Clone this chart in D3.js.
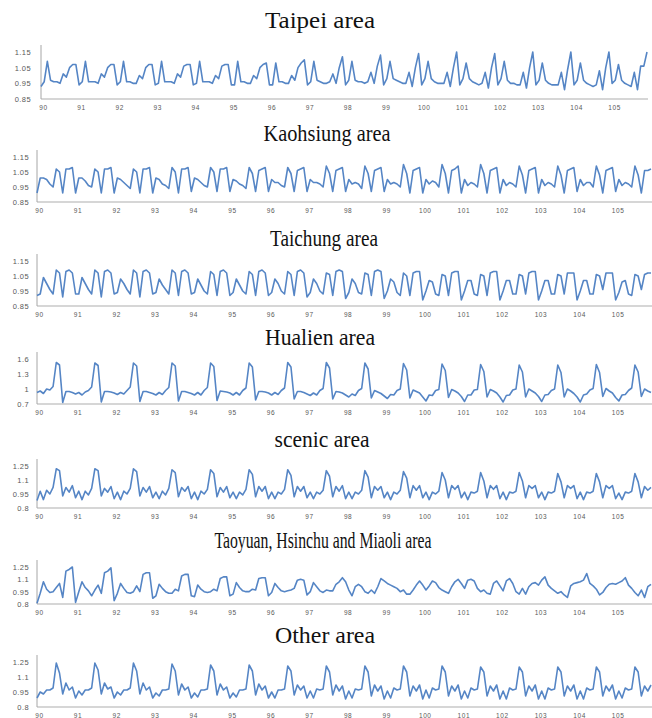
<!DOCTYPE html>
<html>
<head>
<meta charset="utf-8">
<title>seasonal index by area</title>
<style>
	body {
		margin: 0;
		padding: 0;
		background: #fff;
	}
	svg { display: block; }
	.title {
		font-family: "Liberation Serif", "Times New Roman", serif;
		font-size: 24px;
		fill: #111;
		text-anchor: middle;
	}
	.yaxis .tick text {
		font-family: "Liberation Sans", Arial, sans-serif;
		font-size: 7.5px;
		fill: #595959;
		letter-spacing: 0.4px;
	}
	.xaxis .tick text {
		font-family: "Liberation Sans", Arial, sans-serif;
		font-size: 6.5px;
		fill: #595959;
		letter-spacing: 0.6px;
	}
	.yline { stroke: #a6a6a6; stroke-width: 1; }
	.xline { stroke: #c8c8c8; stroke-width: 1.5; }
	.series {
		fill: none;
		stroke: #5585c5;
		stroke-width: 1.6;
		stroke-linejoin: round;
	}
</style>
</head>
<body>

<svg width="652" height="718"></svg>

<script src="https://d3js.org/d3.v7.min.js"></script>
<script>

	// year labels (ROC years), one row of 12 monthly values per year below
	var years = ["90","91","92","93","94","95","96","97","98","99","100","101","102","103","104","105"];

	var taipei = [
		[0.93,0.96,1.09,0.97,0.96,0.96,0.95,1.01,0.99,1.05,1.07,1.07],
		[0.94,0.96,1.09,0.96,0.96,0.96,0.95,1.01,0.99,1.05,1.07,1.07],
		[0.94,0.96,1.09,0.96,0.96,0.95,0.95,1.00,0.98,1.05,1.07,1.07],
		[0.94,0.95,1.09,0.96,0.96,0.96,0.95,1.01,0.99,1.06,1.07,1.07],
		[0.94,0.95,1.09,0.96,0.96,0.96,0.95,1.00,0.98,1.06,1.07,1.07],
		[0.94,0.94,1.09,0.96,0.96,0.95,0.95,1.00,0.98,1.05,1.07,1.08],
		[0.94,0.94,1.08,0.96,0.96,0.95,0.95,1.00,0.97,1.05,1.08,1.10],
		[0.94,0.96,1.09,0.97,0.96,0.95,0.95,0.96,1.01,0.95,1.05,1.12],
		[0.94,0.97,1.09,0.97,0.96,0.96,0.95,0.96,1.02,0.95,1.06,1.13],
		[0.94,0.98,1.09,0.98,0.97,0.96,0.95,0.95,1.02,0.93,1.05,1.14],
		[0.94,0.98,1.09,0.98,0.96,0.95,0.95,0.95,1.02,0.93,1.05,1.15],
		[0.94,0.98,1.08,0.98,0.96,0.95,0.94,0.95,1.02,0.92,1.05,1.14],
		[0.94,0.98,1.09,0.97,0.95,0.95,0.94,0.94,1.02,0.92,1.05,1.15],
		[0.94,0.97,1.08,0.97,0.95,0.94,0.94,0.94,1.02,0.91,1.04,1.15],
		[0.94,0.97,1.08,0.97,0.95,0.94,0.93,0.94,1.03,0.91,1.05,1.15],
		[0.95,0.97,1.07,0.97,0.95,0.94,0.93,1.02,0.91,1.06,1.06,1.15]
	];

	var kaohsiung = [
		[0.91,1.01,1.01,1.00,0.97,0.95,1.07,1.05,0.91,1.07,1.07,1.08],
		[0.91,1.01,1.01,0.99,0.96,0.95,1.07,1.05,0.91,1.07,1.07,1.08],
		[0.91,1.01,1.00,0.98,0.96,0.94,1.07,1.05,0.91,1.07,1.07,1.08],
		[0.91,1.01,1.00,0.97,0.96,0.94,1.08,1.05,0.91,1.07,1.07,1.08],
		[0.92,1.01,1.00,0.98,0.96,0.95,1.08,1.05,0.92,1.07,1.07,1.08],
		[0.92,1.00,0.99,0.97,0.96,0.94,1.08,1.04,0.92,1.06,1.07,1.08],
		[0.92,1.00,0.98,0.98,0.96,0.95,1.08,1.04,0.92,1.06,1.07,1.08],
		[0.92,1.00,0.98,0.98,0.97,0.95,1.09,1.04,0.92,1.06,1.07,1.08],
		[0.92,1.00,0.97,0.98,0.97,0.94,1.09,1.04,0.92,1.06,1.07,1.08],
		[0.92,1.00,0.97,0.98,0.97,0.95,1.10,1.04,0.91,1.06,1.07,1.08],
		[0.91,1.00,0.97,0.99,0.98,0.95,1.10,1.04,0.91,1.06,1.07,1.09],
		[0.91,1.00,0.96,0.98,0.97,0.95,1.10,1.04,0.91,1.06,1.07,1.08],
		[0.91,1.00,0.96,0.98,0.97,0.95,1.09,1.03,0.91,1.06,1.07,1.08],
		[0.91,1.00,0.96,0.98,0.97,0.95,1.09,1.03,0.91,1.06,1.07,1.08],
		[0.92,1.00,0.96,0.98,0.98,0.95,1.09,1.03,0.91,1.06,1.07,1.08],
		[0.92,1.00,0.96,0.98,0.97,0.95,1.09,1.03,0.91,1.06,1.06,1.07]
	];

	var taichung = [
		[0.92,0.93,1.04,1.00,0.96,0.93,1.09,1.07,0.91,1.08,1.09,1.07],
		[0.93,0.93,1.04,1.00,0.96,0.93,1.09,1.07,0.91,1.08,1.09,1.07],
		[0.93,0.94,1.03,1.00,0.96,0.93,1.09,1.07,0.91,1.08,1.09,1.07],
		[0.93,0.94,1.03,0.99,0.96,0.93,1.09,1.07,0.92,1.08,1.09,1.07],
		[0.93,0.94,1.03,0.99,0.95,0.93,1.08,1.06,0.92,1.08,1.09,1.07],
		[0.92,0.94,1.03,0.99,0.95,0.93,1.08,1.06,0.92,1.08,1.09,1.07],
		[0.92,0.94,1.03,1.00,0.95,0.93,1.08,1.06,0.92,1.08,1.09,1.07],
		[0.91,0.94,1.03,1.00,0.95,0.93,1.07,1.06,0.92,1.08,1.09,1.08],
		[0.90,0.94,1.03,1.00,0.94,0.93,1.07,1.06,0.92,1.08,1.09,1.08],
		[0.90,0.95,1.03,1.01,0.94,0.92,1.07,1.05,0.92,1.07,1.08,1.08],
		[0.89,0.95,1.02,1.01,0.93,0.92,1.06,1.05,0.92,1.07,1.08,1.08],
		[0.89,0.95,1.02,1.02,0.93,0.92,1.06,1.05,0.92,1.07,1.08,1.08],
		[0.89,0.95,1.02,1.02,0.93,0.93,1.06,1.05,0.93,1.07,1.08,1.08],
		[0.89,0.95,1.02,1.02,0.93,0.93,1.06,1.05,0.93,1.07,1.07,1.07],
		[0.89,0.95,1.02,1.02,0.93,0.93,1.06,1.05,0.96,1.07,1.07,1.07],
		[0.89,0.94,1.01,1.02,0.93,0.92,1.06,1.05,0.96,1.06,1.07,1.07]
	];

	var hualien = [
		[0.93,0.96,0.91,1.00,0.98,1.05,1.53,1.48,0.73,0.95,0.95,0.93],
		[0.90,0.93,0.88,0.94,0.97,1.04,1.52,1.47,0.74,0.95,0.95,0.94],
		[0.92,0.89,0.93,0.90,0.97,1.04,1.52,1.46,0.75,0.95,0.95,0.93],
		[0.91,0.88,0.93,0.89,0.97,1.03,1.52,1.46,0.76,0.95,0.95,0.93],
		[0.91,0.88,0.93,0.88,0.97,1.03,1.52,1.45,0.77,0.96,0.95,0.94],
		[0.92,0.88,0.93,0.88,0.97,1.02,1.52,1.44,0.78,0.95,0.95,0.94],
		[0.92,0.88,0.93,0.89,0.97,1.02,1.53,1.44,0.80,0.95,0.95,0.93],
		[0.90,0.87,0.92,0.88,0.97,1.01,1.53,1.42,0.80,0.95,0.94,0.92],
		[0.88,0.84,0.90,0.87,0.97,1.01,1.52,1.40,0.82,0.97,0.94,0.91],
		[0.86,0.81,0.89,0.88,0.97,1.00,1.51,1.38,0.82,0.98,0.95,0.92],
		[0.84,0.76,0.88,0.87,0.97,0.99,1.50,1.37,0.83,0.99,0.96,0.92],
		[0.85,0.75,0.88,0.88,0.98,0.99,1.49,1.35,0.84,0.99,0.96,0.92],
		[0.84,0.74,0.87,0.88,0.98,1.00,1.48,1.34,0.84,1.00,0.96,0.92],
		[0.85,0.75,0.88,0.89,0.97,1.00,1.48,1.33,0.84,1.00,0.96,0.91],
		[0.84,0.74,0.88,0.90,0.98,1.01,1.49,1.33,0.85,1.01,0.96,0.92],
		[0.83,0.76,0.88,0.89,0.97,1.02,1.48,1.34,0.85,1.00,0.96,0.93]
	];

	var scenic = [
		[0.88,0.98,0.89,0.99,0.95,1.02,1.22,1.20,0.93,1.02,0.97,1.04],
		[0.91,0.98,0.89,0.98,0.94,1.01,1.22,1.20,0.93,1.01,0.97,1.03],
		[0.90,0.97,0.89,0.98,0.95,1.01,1.22,1.19,0.93,1.02,0.97,1.03],
		[0.91,0.97,0.90,0.98,0.94,1.01,1.21,1.18,0.92,1.02,0.98,1.03],
		[0.90,0.97,0.89,0.98,0.95,1.00,1.21,1.17,0.92,1.02,0.97,1.03],
		[0.91,0.97,0.90,0.97,0.94,1.00,1.21,1.16,0.92,1.03,0.98,1.03],
		[0.90,0.97,0.90,0.97,0.95,1.00,1.21,1.15,0.92,1.03,0.98,1.03],
		[0.91,0.97,0.90,0.97,0.95,0.99,1.20,1.14,0.92,1.03,0.98,1.04],
		[0.90,0.97,0.90,0.97,0.95,0.99,1.20,1.13,0.91,1.03,0.99,1.03],
		[0.91,0.97,0.89,0.97,0.95,0.99,1.19,1.12,0.91,1.04,0.99,1.04],
		[0.91,0.97,0.89,0.97,0.95,0.98,1.18,1.10,0.91,1.04,1.00,1.04],
		[0.91,0.97,0.89,0.97,0.96,0.98,1.18,1.09,0.91,1.04,1.00,1.04],
		[0.90,0.97,0.89,0.97,0.96,0.98,1.18,1.09,0.91,1.04,1.01,1.04],
		[0.91,0.97,0.89,0.97,0.96,0.98,1.17,1.08,0.91,1.04,1.01,1.04],
		[0.90,0.97,0.89,0.97,0.96,0.98,1.17,1.08,0.91,1.04,1.01,1.04],
		[0.90,0.96,0.89,0.97,0.96,0.98,1.17,1.08,0.91,1.03,0.99,1.02]
	];

	var taoyuan = [
		[0.81,0.93,1.07,0.98,0.94,0.95,1.00,1.05,0.88,1.20,1.22,1.25],
		[0.82,0.95,1.07,1.00,0.96,0.90,0.97,1.03,0.93,1.18,1.20,1.24],
		[0.84,0.93,1.05,0.99,0.94,0.93,0.95,1.02,0.95,1.16,1.18,1.18],
		[0.87,0.90,1.04,0.99,0.95,0.93,0.93,0.98,0.96,1.14,1.16,1.16],
		[0.90,0.89,1.03,0.98,0.95,0.94,0.95,0.98,0.96,1.11,1.13,1.13],
		[0.90,0.92,1.06,1.00,0.96,0.95,0.95,0.98,0.97,1.11,1.12,1.12],
		[0.90,0.94,1.05,1.00,0.96,0.95,0.96,0.97,0.99,1.09,1.10,1.09],
		[0.91,0.95,1.06,1.01,0.96,0.94,0.97,0.96,0.96,1.04,1.07,1.12],
		[1.07,0.97,0.90,1.01,1.04,1.01,0.95,0.93,0.97,0.93,1.01,1.11],
		[1.08,1.05,1.03,1.01,0.99,0.95,0.97,0.92,0.92,0.97,1.03,1.08],
		[1.03,0.97,1.02,1.08,1.06,1.00,0.97,0.95,0.93,1.01,1.07,1.10],
		[1.05,0.99,1.09,1.10,1.08,0.99,0.95,0.97,0.93,0.92,1.05,1.08],
		[1.02,0.96,1.08,1.11,1.05,0.95,0.92,0.99,0.92,1.01,1.05,1.06],
		[1.03,1.09,1.13,1.03,0.99,0.96,0.93,0.95,0.91,0.88,1.02,1.05],
		[1.06,1.07,1.09,1.17,1.05,1.02,0.98,0.91,0.94,1.00,1.04,1.05],
		[1.04,1.06,1.08,1.12,1.03,0.99,0.94,0.90,0.97,0.88,1.01,1.04]
	];

	var other = [
		[0.89,0.95,0.93,0.97,0.97,0.99,1.24,1.14,0.93,1.04,0.97,1.00],
		[0.89,0.96,0.92,0.97,0.97,0.99,1.24,1.17,0.93,1.04,0.98,1.00],
		[0.89,0.95,0.92,0.97,0.97,0.99,1.24,1.16,0.93,1.04,0.97,1.00],
		[0.89,0.94,0.91,0.97,0.97,0.98,1.23,1.16,0.92,1.03,0.97,1.00],
		[0.89,0.94,0.90,0.97,0.97,0.98,1.22,1.16,0.92,1.03,0.97,1.00],
		[0.89,0.94,0.90,0.97,0.97,0.98,1.22,1.16,0.92,1.03,0.97,1.01],
		[0.89,0.95,0.89,0.97,0.97,0.98,1.21,1.16,0.92,1.02,0.97,1.01],
		[0.89,0.96,0.89,0.98,0.97,0.98,1.21,1.15,0.92,1.02,0.96,1.01],
		[0.88,0.96,0.89,0.98,0.97,0.98,1.21,1.15,0.91,1.02,0.96,1.01],
		[0.88,0.96,0.89,0.99,0.97,0.98,1.21,1.15,0.91,1.01,0.96,1.02],
		[0.88,0.97,0.89,0.99,0.97,0.98,1.21,1.15,0.91,1.01,0.96,1.02],
		[0.88,0.96,0.89,0.99,0.97,0.98,1.20,1.15,0.91,1.01,0.96,1.02],
		[0.88,0.96,0.88,0.99,0.97,0.98,1.20,1.15,0.91,1.01,0.96,1.02],
		[0.88,0.96,0.88,0.99,0.97,0.98,1.20,1.15,0.91,1.01,0.96,1.02],
		[0.88,0.96,0.88,0.99,0.97,0.98,1.20,1.15,0.91,1.01,0.96,1.02],
		[0.88,0.96,0.89,0.99,0.97,0.98,1.20,1.15,0.91,1.01,0.96,1.02]
	];

	var ticksA = [0.85, 0.95, 1.05, 1.15];
	var ticksB = [0.7, 1, 1.3, 1.6];
	var ticksC = [0.8, 0.95, 1.1, 1.25];

	// layout of the seven stacked panels (titles are squeezed to the widths seen in the figure)
	var panels = [
		{title: "Taipei area", rows: taipei, ticks: ticksA, x0: 41, x1: 647, top: 52, bottom: 99, titleX: 320, titleY: 28, titleW: 110, pad: 10},
		{title: "Kaohsiung area", rows: kaohsiung, ticks: ticksA, x0: 37, x1: 651, top: 157, bottom: 202, titleX: 327, titleY: 141, titleW: 127, pad: 8},
		{title: "Taichung area", rows: taichung, ticks: ticksA, x0: 37, x1: 651, top: 261, bottom: 306, titleX: 324, titleY: 246, titleW: 108, pad: 8},
		{title: "Hualien area", rows: hualien, ticks: ticksB, x0: 37, x1: 651, top: 359, bottom: 404, titleX: 320, titleY: 345, titleW: 110, pad: 8},
		{title: "scenic area", rows: scenic, ticks: ticksC, x0: 37, x1: 651, top: 466, bottom: 508, titleX: 322, titleY: 447, titleW: 95, pad: 8},
		{title: "Taoyuan, Hsinchu and Miaoli area", rows: taoyuan, ticks: ticksC, x0: 37, x1: 651, top: 567, bottom: 604, titleX: 323, titleY: 548, titleW: 217, pad: 8},
		{title: "Other area", rows: other, ticks: ticksC, x0: 37, x1: 651, top: 662, bottom: 707, titleX: 325, titleY: 643, titleW: 100, pad: 8}
	];

	var svg = d3.select("svg");

	panels.forEach(function(p) {

		var values = p.rows.flat();

		var x = d3.scaleLinear()
			.domain([0, values.length - 1])
			.range([p.x0, p.x1]);

		var y = d3.scaleLinear()
			.domain(d3.extent(p.ticks))
			.range([p.bottom, p.top]);

		var g = svg.append("g");

		g.append("text")
			.attr("class", "title")
			.attr("x", p.titleX)
			.attr("y", p.titleY)
			.attr("textLength", p.titleW)
			.attr("lengthAdjust", "spacingAndGlyphs")
			.text(p.title);

		// axis lines
		g.append("line")
			.attr("class", "xline")
			.attr("x1", p.x0)
			.attr("x2", p.x1 + 1)
			.attr("y1", p.bottom)
			.attr("y2", p.bottom);

		g.append("line")
			.attr("class", "yline")
			.attr("x1", p.x0)
			.attr("x2", p.x0)
			.attr("y1", p.top - 7)
			.attr("y2", p.bottom);

		g.append("g")
			.attr("class", "yaxis")
			.attr("transform", "translate(" + p.x0 + ",0)")
			.call(d3.axisLeft(y)
				.tickValues(p.ticks)
				.tickSize(0)
				.tickPadding(p.pad)
				.tickFormat(function(d) { return String(+d.toFixed(2)); }))
			.call(function(a) { a.select(".domain").remove(); });

		g.append("g")
			.attr("class", "xaxis")
			.attr("transform", "translate(0," + p.bottom + ")")
			.call(d3.axisBottom(x)
				.tickValues(d3.range(0, values.length, 12))
				.tickSize(0)
				.tickPadding(6)
				.tickFormat(function(i) { return years[i / 12]; }))
			.call(function(a) {
				a.select(".domain").remove();
				a.selectAll("text").attr("dx", 2);
			});

		g.append("path")
			.datum(values)
			.attr("class", "series")
			.attr("d", d3.line()
				.x(function(d, i) { return x(i); })
				.y(function(d) { return y(d); }));
	});

</script>

</body>
</html>
